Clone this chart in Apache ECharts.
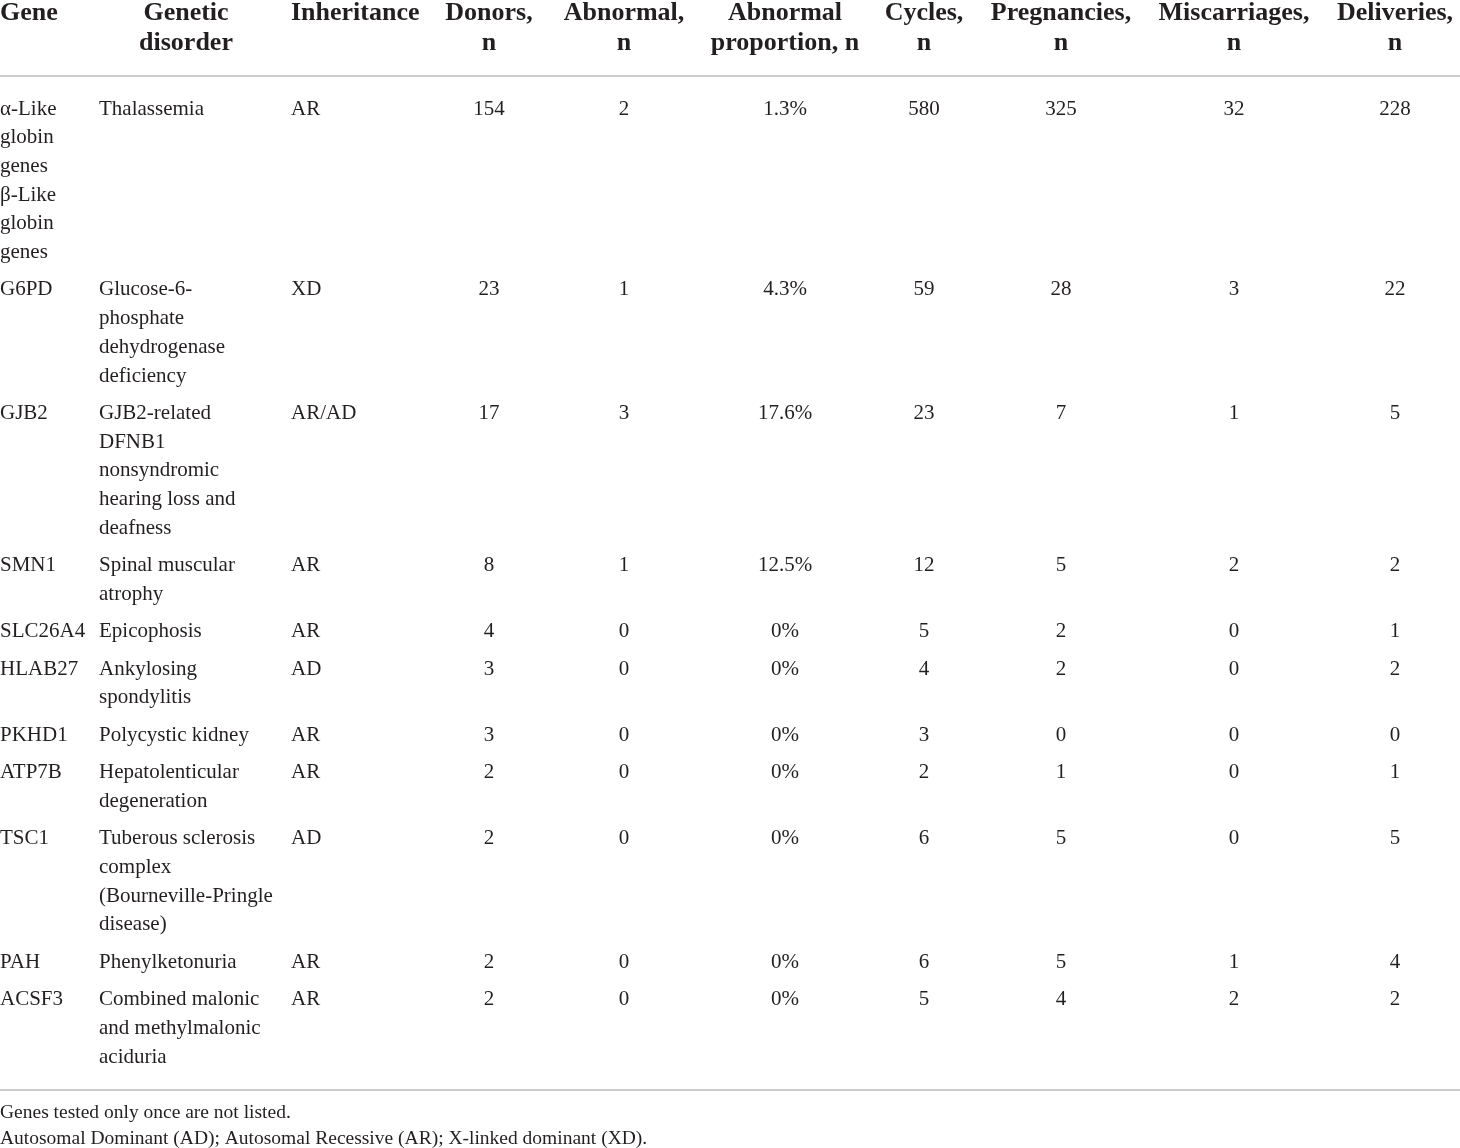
<!DOCTYPE html>
<html>
<head>
<meta charset="utf-8">
<script src="https://cdn.jsdelivr.net/npm/echarts@6/dist/echarts.min.js"></script>
<style>
  html, body { margin: 0; padding: 0; background: #fff; }
  #main { width: 1460px; height: 1148px; }
</style>
</head>
<body>
<div id="main"></div>
<script>
// table content
const headers = ['Gene', 'Genetic\ndisorder', 'Inheritance', 'Donors,\nn', 'Abnormal,\nn',
  'Abnormal\nproportion, n', 'Cycles,\nn', 'Pregnancies,\nn', 'Miscarriages,\nn', 'Deliveries,\nn']
const genes = ['α-Like\nglobin\ngenes\nβ-Like\nglobin\ngenes', 'G6PD', 'GJB2', 'SMN1', 'SLC26A4',
  'HLAB27', 'PKHD1', 'ATP7B', 'TSC1', 'PAH', 'ACSF3']
const disorders = [
  'Thalassemia',
  'Glucose-6-\nphosphate\ndehydrogenase\ndeficiency',
  'GJB2-related\nDFNB1\nnonsyndromic\nhearing loss and\ndeafness',
  'Spinal muscular\natrophy',
  'Epicophosis',
  'Ankylosing\nspondylitis',
  'Polycystic kidney',
  'Hepatolenticular\ndegeneration',
  'Tuberous sclerosis\ncomplex\n(Bourneville-Pringle\ndisease)',
  'Phenylketonuria',
  'Combined malonic\nand methylmalonic\naciduria'
]
const inheritance = ['AR', 'XD', 'AR/AD', 'AR', 'AR', 'AD', 'AR', 'AR', 'AD', 'AR', 'AR']
const donors = [154, 23, 17, 8, 4, 3, 3, 2, 2, 2, 2]
const abnormal = [2, 1, 3, 1, 0, 0, 0, 0, 0, 0, 0]
const proportion = ['1.3%', '4.3%', '17.6%', '12.5%', '0%', '0%', '0%', '0%', '0%', '0%', '0%']
const cycles = [580, 59, 23, 12, 5, 4, 3, 2, 6, 6, 5]
const pregnancies = [325, 28, 7, 5, 2, 2, 0, 1, 5, 5, 4]
const miscarriages = [32, 3, 1, 2, 0, 0, 0, 0, 0, 1, 2]
const deliveries = [228, 22, 5, 2, 1, 2, 0, 1, 5, 4, 2]
const footnotes = [
  'Genes tested only once are not listed.',
  'Autosomal Dominant (AD); Autosomal Recessive (AR); X-linked dominant (XD).'
]

// layout
const W = 1460, H = 1148
const INK = '#231f20'
const FONT = '"Liberation Serif", "DejaVu Serif", serif'
const headLine = 30, bodyLine = 28.7, rowGap = 37.4
const headTop = 13, firstRow = 109, headRule = 76, bottomRule = 1090
const columns = [
  { x: 0, align: 'left', hx: 0, halign: 'left' },
  { x: 99, align: 'left', hx: 186, halign: 'center' },
  { x: 291, align: 'left', hx: 291, halign: 'left' },
  { x: 489, align: 'center' },
  { x: 624, align: 'center' },
  { x: 785, align: 'center' },
  { x: 924, align: 'center' },
  { x: 1061, align: 'center' },
  { x: 1234, align: 'center' },
  { x: 1395, align: 'center' }
]

let bodyCols = [genes, disorders, inheritance, donors, abnormal, proportion,
  cycles, pregnancies, miscarriages, deliveries]

let cells = []
headers.forEach((h, i) => {
  let col = columns[i]
  cells.push({
    x: col.hx != null ? col.hx : col.x, y: headTop, text: h,
    align: col.halign || col.align, font: 'bold 26px ' + FONT, lh: headLine
  })
})

let y = firstRow
genes.forEach((g, r) => {
  let lines = 1
  bodyCols.forEach((arr, c) => {
    let text = String(arr[r])
    lines = Math.max(lines, text.split('\n').length)
    cells.push({ x: columns[c].x, y, text, align: columns[c].align, font: '21px ' + FONT, lh: bodyLine })
  })
  y += (lines - 1) * bodyLine + rowGap
})

footnotes.forEach((t, i) => {
  cells.push({ x: 0, y: 1113 + i * 26, text: t, align: 'left', font: '19.5px ' + FONT, lh: 26 })
})

const rules = [[0, headRule, W, headRule], [0, bottomRule, W, bottomRule]]

let chart = echarts.init(document.getElementById('main'))
chart.setOption({
  animation: false,
  backgroundColor: '#fff',
  grid: { left: 0, right: 0, top: 0, bottom: 0 },
  xAxis: { type: 'value', min: 0, max: W, show: false },
  yAxis: { type: 'value', min: 0, max: H, inverse: true, show: false },
  series: [
    {
      type: 'custom',
      clip: false,
      data: rules,
      renderItem(params, api) {
        let p1 = api.coord([api.value(0), api.value(1)])
        let p2 = api.coord([api.value(2), api.value(3)])
        return {
          type: 'line',
          shape: { x1: p1[0], y1: p1[1], x2: p2[0], y2: p2[1] },
          style: { stroke: '#bdbdbd', lineWidth: 1.5 }
        }
      }
    },
    {
      type: 'custom',
      clip: false,
      data: cells.map(c => [c.x, c.y]),
      renderItem(params, api) {
        let c = cells[params.dataIndex]
        let p = api.coord([api.value(0), api.value(1)])
        return {
          type: 'text',
          style: {
            text: c.text,
            x: p[0],
            y: p[1] - c.lh / 2,
            fill: INK,
            font: c.font,
            lineHeight: c.lh,
            align: c.align,
            verticalAlign: 'top'
          }
        }
      }
    }
  ]
})
</script>
</body>
</html>
